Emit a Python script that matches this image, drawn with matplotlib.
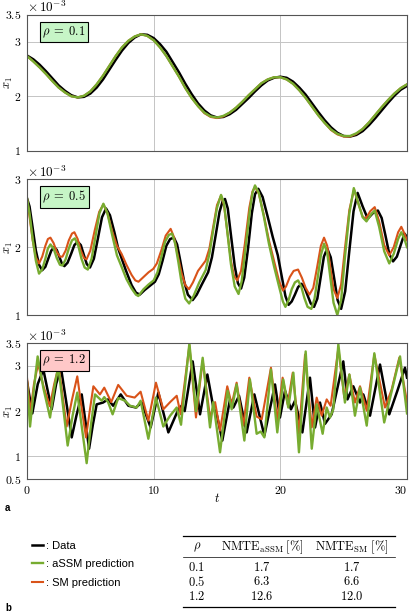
import matplotlib
matplotlib.use("Agg")
import matplotlib.pyplot as plt
from matplotlib.ticker import FuncFormatter

plt.rcParams['mathtext.fontset'] = 'cm'
plt.rcParams['font.family'] = ['Liberation Sans', 'DejaVu Sans']

C_DATA = 'black'
C_ASSM = '#77AC30'
C_SM = '#D95319'

# ---- panel 1 (rho = 0.1), sampled every 0.5 time units ----
p1_t = [i * 0.5 for i in range(61)]
p1_data = [2.75, 2.68, 2.58, 2.46, 2.33, 2.20, 2.10, 2.02, 1.98, 1.99, 2.05, 2.16, 2.31, 2.49, 2.67,
           2.84, 2.98, 3.08, 3.14, 3.13, 3.07, 2.96, 2.82, 2.63, 2.44, 2.23, 2.04, 1.87, 1.74, 1.65,
           1.61, 1.62, 1.67, 1.75, 1.86, 1.97, 2.09, 2.20, 2.29, 2.34, 2.36, 2.34, 2.27, 2.16, 2.03,
           1.87, 1.71, 1.56, 1.43, 1.33, 1.27, 1.26, 1.29, 1.36, 1.47, 1.60, 1.74, 1.88, 2.01, 2.12, 2.19]
p1_assm = [2.74, 2.64, 2.53, 2.41, 2.28, 2.16, 2.07, 2.00, 1.98, 2.01, 2.09, 2.22, 2.38, 2.56, 2.74,
           2.90, 3.02, 3.10, 3.14, 3.11, 3.03, 2.90, 2.74, 2.55, 2.36, 2.15, 1.97, 1.82, 1.70, 1.63,
           1.61, 1.64, 1.70, 1.79, 1.90, 2.02, 2.13, 2.24, 2.31, 2.35, 2.35, 2.31, 2.23, 2.11, 1.97,
           1.81, 1.65, 1.51, 1.39, 1.31, 1.27, 1.27, 1.32, 1.40, 1.52, 1.66, 1.80, 1.93, 2.05, 2.15, 2.22]
p1_sm = [2.74, 2.64, 2.53, 2.41, 2.28, 2.16, 2.07, 2.00, 1.98, 2.01, 2.09, 2.22, 2.38, 2.56, 2.74,
         2.90, 3.02, 3.10, 3.14, 3.11, 3.03, 2.90, 2.74, 2.55, 2.36, 2.15, 1.97, 1.82, 1.69, 1.62,
         1.60, 1.63, 1.70, 1.79, 1.90, 2.02, 2.13, 2.24, 2.31, 2.35, 2.35, 2.31, 2.23, 2.11, 1.97,
         1.81, 1.65, 1.51, 1.38, 1.30, 1.26, 1.26, 1.31, 1.40, 1.52, 1.66, 1.80, 1.93, 2.05, 2.15, 2.22]

# ---- panel 2 (rho = 0.5) ----
p2_data_t = [0.0, 0.2, 0.45, 0.7, 0.95, 1.2, 1.45, 1.68, 1.92, 2.15, 2.35, 2.55, 2.75, 2.95, 3.2, 3.48,
             3.74, 4.0, 4.25, 4.48, 4.72, 4.97, 5.28, 5.6, 5.92, 6.24, 6.55, 6.9, 7.2, 7.5, 7.8, 8.26,
             8.6, 8.9, 9.3, 9.7, 10.1, 10.4, 10.7, 11.0, 11.3, 11.6, 11.85, 12.1, 12.4, 12.7, 13.08,
             13.4, 13.8, 14.3, 14.6, 14.9, 15.2, 15.45, 15.63, 15.85, 16.1, 16.4, 16.65, 16.9, 17.15,
             17.45, 17.75, 18.0, 18.26, 18.6, 19.0, 19.4, 19.8, 20.1, 20.4, 20.65, 20.9, 21.15, 21.4,
             21.66, 21.9, 22.15, 22.4, 22.66, 22.92, 23.18, 23.44, 23.7, 23.98, 24.25, 24.52, 24.8,
             25.12, 25.45, 25.78, 26.1, 26.5, 26.9, 27.3, 27.7, 28.0, 28.3, 28.6, 28.9, 29.2, 29.5,
             29.8, 30.0]
p2_data = [2.72, 2.60, 2.28, 1.95, 1.74, 1.66, 1.71, 1.83, 1.95, 2.00, 1.96, 1.86, 1.76, 1.72, 1.77, 1.90,
           2.03, 2.08, 2.03, 1.89, 1.75, 1.70, 1.83, 2.13, 2.44, 2.57, 2.47, 2.22, 1.98, 1.82, 1.66, 1.44,
           1.33, 1.30, 1.37, 1.43, 1.49, 1.60, 1.80, 2.02, 2.12, 2.14, 2.04, 1.80, 1.50, 1.30, 1.22,
           1.30, 1.45, 1.63, 1.85, 2.18, 2.52, 2.68, 2.71, 2.57, 2.18, 1.72, 1.47, 1.39, 1.55,
           1.98, 2.50, 2.78, 2.86, 2.74, 2.45, 2.15, 1.88, 1.58, 1.28, 1.15, 1.20, 1.30, 1.41,
           1.46, 1.41, 1.29, 1.17, 1.12, 1.24, 1.55, 1.86, 1.98, 1.85, 1.54, 1.22, 1.09,
           1.35, 1.95, 2.53, 2.80, 2.60, 2.42, 2.50, 2.54, 2.43, 2.17, 1.90, 1.79, 1.86, 2.03,
           2.20, 2.15]
p2_assm_t = [0.0, 0.2, 0.45, 0.7, 0.95, 1.2, 1.45, 1.65, 1.85, 2.1, 2.35, 2.6, 2.8, 3.05, 3.3, 3.55,
             3.78, 4.05, 4.3, 4.55, 4.8, 5.1, 5.4, 5.72, 6.03, 6.35, 6.7, 7.1, 7.47, 7.85, 8.26, 8.6,
             8.79, 9.2, 9.6, 10.0, 10.3, 10.6, 10.9, 11.2, 11.45, 11.7, 11.95, 12.2, 12.5, 12.8, 13.15,
             13.6, 14.1, 14.4, 14.7, 15.0, 15.32, 15.55, 15.8, 16.1, 16.4, 16.7, 16.95, 17.25, 17.6,
             17.8, 18.0, 18.3, 18.7, 19.1, 19.5, 19.9, 20.2, 20.4, 20.65, 20.9, 21.15, 21.4, 21.65,
             21.9, 22.15, 22.45, 22.7, 22.95, 23.2, 23.45, 23.7, 23.95, 24.2, 24.5, 24.8, 25.1, 25.45,
             25.8, 26.2, 26.5, 26.8, 27.15, 27.45, 27.8, 28.2, 28.6, 28.95, 29.3, 29.55, 29.8, 30.0]
p2_assm = [2.72, 2.50, 2.12, 1.80, 1.61, 1.67, 1.83, 1.98, 2.04, 1.98, 1.84, 1.74, 1.73, 1.82, 1.98, 2.10,
           2.13, 2.02, 1.83, 1.70, 1.67, 1.83, 2.15, 2.50, 2.64, 2.50, 2.20, 1.88, 1.71, 1.53, 1.39, 1.30,
           1.28, 1.38, 1.45, 1.51, 1.63, 1.85, 2.08, 2.18, 2.20, 2.05, 1.78, 1.48, 1.24, 1.17, 1.28,
           1.48, 1.66, 1.90, 2.25, 2.58, 2.77, 2.65, 2.25, 1.75, 1.42, 1.31, 1.50, 1.98, 2.55,
           2.80, 2.91, 2.80, 2.45, 2.05, 1.72, 1.42, 1.20, 1.12, 1.22, 1.38, 1.48, 1.51, 1.42,
           1.25, 1.12, 1.09, 1.24, 1.55, 1.88, 2.05, 1.92, 1.55, 1.18, 1.00, 1.22, 1.85, 2.50,
           2.87, 2.62, 2.44, 2.38, 2.48, 2.54, 2.30, 1.94, 1.76, 1.90, 2.12, 2.22, 2.12, 2.00]
p2_sm_t = [0.0, 0.2, 0.45, 0.7, 0.95, 1.2, 1.45, 1.65, 1.85, 2.1, 2.35, 2.6, 2.8, 3.05, 3.3, 3.55,
           3.74, 4.0, 4.25, 4.5, 4.7, 5.0, 5.35, 5.7, 6.03, 6.35, 6.75, 7.1, 7.47, 7.85, 8.26, 8.55,
           8.8, 9.2, 9.6, 9.97, 10.25, 10.6, 10.95, 11.34, 11.6, 11.9, 12.2, 12.5, 12.79, 13.1, 13.5,
           14.1, 14.4, 14.7, 15.0, 15.32, 15.55, 15.8, 16.1, 16.35, 16.6, 16.9, 17.2, 17.55, 17.8,
           18.0, 18.3, 18.7, 19.1, 19.5, 19.9, 20.2, 20.45, 20.75, 21.05, 21.4, 21.7, 22.0, 22.3,
           22.6, 22.9, 23.2, 23.45, 23.7, 23.95, 24.2, 24.5, 24.8, 25.1, 25.45, 25.82, 26.2, 26.5,
           26.75, 27.1, 27.45, 27.8, 28.2, 28.6, 28.95, 29.3, 29.55, 29.8, 30.0]
p2_sm = [2.72, 2.45, 2.10, 1.85, 1.76, 1.86, 2.02, 2.12, 2.14, 2.06, 1.93, 1.86, 1.86, 1.95, 2.10, 2.20,
         2.22, 2.12, 1.95, 1.84, 1.82, 1.95, 2.25, 2.52, 2.63, 2.50, 2.22, 2.02, 1.90, 1.74, 1.59, 1.51,
         1.49, 1.56, 1.63, 1.68, 1.76, 1.95, 2.17, 2.27, 2.15, 1.88, 1.62, 1.44, 1.38, 1.48, 1.65,
         1.80, 1.98, 2.30, 2.62, 2.76, 2.62, 2.25, 1.80, 1.57, 1.51, 1.65, 2.05, 2.58, 2.82,
         2.89, 2.79, 2.47, 2.10, 1.80, 1.50, 1.36, 1.42, 1.56, 1.65, 1.67, 1.55, 1.40, 1.30,
         1.40, 1.70, 2.02, 2.14, 2.02, 1.70, 1.38, 1.25, 1.45, 1.98, 2.55, 2.85, 2.62, 2.45,
         2.42, 2.53, 2.59, 2.38, 2.03, 1.88, 2.00, 2.22, 2.30, 2.20, 2.10]

# ---- panel 3 (rho = 1.2) ----
p3_data_t = [0.0, 0.42, 0.85, 1.29, 1.6, 1.95, 2.3, 2.68, 3.1, 3.53, 3.9, 4.32, 4.6, 4.9, 5.2, 5.5,
             6.0, 6.4, 6.8, 7.4, 8.0, 8.6, 9.05, 9.76, 10.37, 11.16, 11.95, 12.21, 12.45, 13.08,
             13.66, 14.24, 14.7, 15.0, 15.42, 16.03, 16.29, 16.74, 17.34, 17.95, 18.74, 19.58,
             19.97, 20.37, 20.84, 21.16, 21.74, 22.34, 22.74, 23.13, 23.53, 24.05, 24.97, 25.3,
             25.76, 26.29, 26.55, 27.08, 27.87, 28.6, 29.24, 29.84, 30.0]
p3_data = [2.66, 1.95, 2.60, 2.92, 2.50, 2.04, 2.60, 2.96, 2.20, 1.42, 1.90, 2.37, 1.80, 1.17, 1.70, 2.15,
           2.19, 2.26, 2.12, 2.37, 2.12, 2.08, 2.19, 1.64, 2.41, 1.53, 2.04, 2.12, 2.00, 3.10,
           1.93, 2.81, 2.10, 1.90, 1.35, 2.26, 2.08, 2.34, 1.53, 2.37, 1.46, 2.59,
           1.86, 2.45, 2.04, 2.23, 1.53, 2.74, 1.64, 2.19, 1.72, 1.93, 3.10, 2.26,
           2.55, 2.19, 2.37, 1.90, 3.03, 1.93, 2.45, 2.96, 2.74]
p3_assm_t = [0.0, 0.24, 0.55, 0.84, 1.3, 1.82, 2.15, 2.47, 2.85, 3.21, 3.6, 3.97, 4.35, 4.71, 5.05,
             5.37, 5.9, 6.1, 6.4, 6.76, 7.2, 7.74, 8.13, 8.66, 8.97, 9.58, 10.18, 10.76, 11.3, 11.82,
             12.16, 12.82, 13.34, 13.87, 14.45, 14.7, 15.24, 15.84, 16.16, 16.55, 17.16, 17.6, 18.13,
             18.45, 18.74, 19.26, 19.76, 20.23, 20.63, 21.03, 21.47, 22.0, 22.48, 22.87, 23.34,
             23.66, 23.92, 24.18, 24.58, 25.1, 25.45, 25.89, 26.29, 26.82, 27.42, 28.2, 28.8,
             29.45, 30.0]
p3_assm = [2.62, 1.66, 2.50, 3.21, 2.50, 1.86, 2.50, 2.99, 2.10, 1.24, 1.90, 2.41, 1.60, 0.85, 1.70,
           2.37, 2.23, 2.31, 2.20, 1.93, 2.29, 2.23, 2.12, 2.08, 2.23, 1.39, 2.30, 1.66, 1.90, 2.08,
           1.70, 3.50, 2.00, 3.18, 1.64, 2.20, 1.09, 2.45, 2.04, 2.59, 1.35, 2.70, 1.50,
           1.55, 1.42, 2.92, 1.53, 2.70, 2.08, 2.85, 1.09, 3.32, 1.17, 2.15, 1.50,
           2.08, 1.86, 2.04, 3.48, 2.19, 2.81, 1.90, 2.52, 1.68, 3.28, 1.75, 2.45,
           3.21, 1.95]
p3_sm_t = [0.0, 0.26, 0.55, 0.88, 1.3, 1.8, 2.15, 2.5, 2.85, 3.13, 3.55, 3.97, 4.3, 4.66, 4.95, 5.24,
           5.76, 6.1, 6.65, 7.2, 7.87, 8.5, 8.97, 9.58, 10.18, 10.76, 11.3, 11.82, 12.13, 12.82,
           13.34, 13.87, 14.45, 14.85, 15.24, 15.81, 16.16, 16.55, 17.08, 17.55, 18.13, 18.53,
           19.26, 19.76, 20.18, 20.58, 20.98, 21.47, 21.95, 22.48, 22.87, 23.26, 23.66, 23.97,
           24.58, 25.05, 25.45, 25.89, 26.29, 26.82, 27.42, 28.26, 28.79, 29.39, 30.0]
p3_sm = [2.74, 1.96, 2.60, 3.05, 2.55, 2.11, 2.60, 3.00, 2.25, 1.66, 2.25, 2.77, 2.10, 1.42, 2.00, 2.55,
         2.37, 2.52, 2.20, 2.58, 2.34, 2.30, 2.43, 1.79, 2.63, 2.04, 2.20, 2.34, 1.93, 3.45,
         1.86, 3.12, 1.86, 2.20, 1.57, 2.55, 2.15, 2.63, 1.68, 2.74, 1.88, 1.82,
         2.96, 1.79, 2.74, 2.15, 2.85, 1.50, 3.25, 1.64, 2.30, 1.90, 2.26, 2.12,
         3.39, 2.30, 2.81, 2.19, 2.55, 2.01, 3.25, 2.08, 2.48, 3.18, 2.20]

panels = [
    dict(label=r'$\rho\;=\;0.1$', box='#c6f5c6', yticks=[1, 2, 3, 3.5], ylim=(1, 3.5),
         series=[(p1_t, p1_data), (p1_t, p1_sm), (p1_t, p1_assm)]),
    dict(label=r'$\rho\;=\;0.5$', box='#c6f5c6', yticks=[1, 2, 3], ylim=(1, 3),
         series=[(p2_data_t, p2_data), (p2_sm_t, p2_sm), (p2_assm_t, p2_assm)]),
    dict(label=r'$\rho\;=\;1.2$', box='#ffc8c8', yticks=[0.5, 1, 2, 3, 3.5], ylim=(0.5, 3.5),
         series=[(p3_data_t, p3_data), (p3_sm_t, p3_sm), (p3_assm_t, p3_assm)]),
]

# table (panel b)
tab_rho = ['0.1', '0.5', '1.2']
tab_assm = ['1.7', '6.3', '12.6']
tab_sm = ['1.7', '6.6', '12.0']

W, H = 410, 615
fig = plt.figure(figsize=(W / 100, H / 100), dpi=100)

boxes = [(14.7, 150.7), (179.3, 315.0), (343.3, 479.0)]
fmt = FuncFormatter(lambda v, p: f'${v:g}$')
colors = [C_DATA, C_SM, C_ASSM]
widths = [1.8, 1.5, 1.7]
line_handles = []
for k, (pan, (top, bot)) in enumerate(zip(panels, boxes)):
    ax = fig.add_axes([27 / W, 1 - bot / H, 380 / W, (bot - top) / H])
    hs = []
    for (tt, vv), c, lw in zip(pan['series'], colors, widths):
        h, = ax.plot(tt, vv, color=c, lw=lw)
        hs.append(h)
    line_handles = hs
    ax.set_xlim(0, 30)
    ax.set_ylim(*pan['ylim'])
    ax.set_xticks([0, 10, 20, 30])
    ax.set_yticks(pan['yticks'])
    ax.yaxis.set_major_formatter(fmt)
    ax.xaxis.set_major_formatter(fmt)
    ax.grid(True, color='#c4c4c4', lw=0.7)
    ax.tick_params(length=0, labelsize=8.5, pad=4)
    for s in ax.spines.values():
        s.set_color('#555555')
        s.set_linewidth(0.8)
    if k < 2:
        ax.tick_params(labelbottom=False)
    else:
        ax.set_xlabel(r'$t$', fontsize=9, labelpad=-3)
        fig.canvas.draw()
        ax.get_xticklabels()[-1].set_horizontalalignment('right')
    ax.set_ylabel(r'$x_1$', fontsize=9)
    ax.yaxis.set_label_coords(-0.032, 0.5)
    ax.text(0.0, 0.995, r'$\times\,10^{-3}$', transform=ax.transAxes, ha='left', va='bottom',
            fontsize=9.5)
    ax.text(0.04, 0.93, pan['label'], transform=ax.transAxes, ha='left', va='top', fontsize=9,
            zorder=10, bbox=dict(boxstyle='square,pad=0.2', fc=pan['box'], ec='black', lw=0.8))

fig.text(5 / W, 1 - 508 / H, 'a', fontsize=7, fontweight='bold', va='center')
fig.text(5 / W, 1 - 608 / H, 'b', fontsize=7, fontweight='bold', va='center')

# legend
fig.legend([line_handles[0], line_handles[2], line_handles[1]],
           [': Data', ': aSSM prediction', ': SM prediction'],
           loc='upper left', bbox_to_anchor=(32 / W, 1 - 541 / H), frameon=False, fontsize=8,
           handlelength=1.0, handletextpad=0.3, labelspacing=0.75, borderpad=0, borderaxespad=0)

# table
tb = fig.add_axes([0, 0, 1, 90 / H])
tb.set_xlim(0, W)
tb.set_ylim(615, 525)
tb.axis('off')
tb.plot([183, 395], [536, 536], color='black', lw=0.9)
tb.plot([183, 395], [556.7, 556.7], color='black', lw=0.5)
tb.plot([183, 395], [606.5, 606.5], color='black', lw=0.9)
col_x = [197, 262, 352]
headers = [r'$\rho$', r'$\mathrm{NMTE}_{\mathrm{aSSM}}\;[\%]$', r'$\mathrm{NMTE}_{\mathrm{SM}}\;[\%]$']
for x, h in zip(col_x, headers):
    tb.text(x, 547, h, ha='center', va='center', fontsize=9)
for i, row_y in enumerate([567.7, 581.7, 596]):
    for x, val in zip(col_x, [tab_rho[i], tab_assm[i], tab_sm[i]]):
        tb.text(x, row_y, f'${val}$', ha='center', va='center', fontsize=9)

fig.savefig('out.png', dpi=100)
